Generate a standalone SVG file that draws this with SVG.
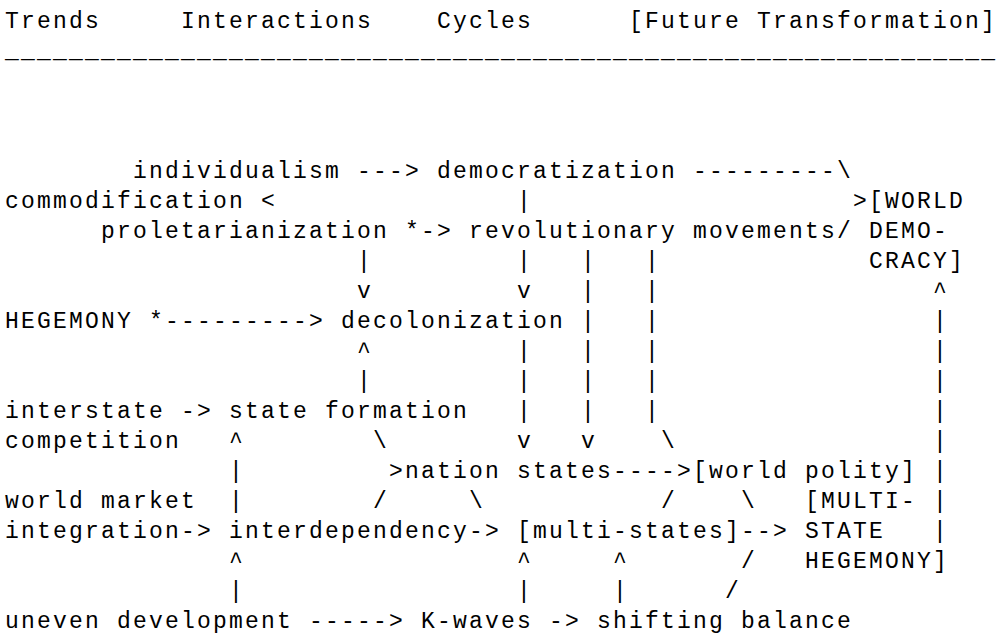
<svg xmlns="http://www.w3.org/2000/svg" width="996" height="636" viewBox="0 0 996 636">
<style>
text{font-family:"Liberation Mono","DejaVu Sans Mono",monospace;font-size:23px;letter-spacing:2.2px;fill:#000;white-space:pre}
</style>
<rect width="996" height="636" fill="#fff"/>
<g id="header">
<text x="5" y="28">Trends</text>
<text x="181" y="28">Interactions</text>
<text x="437" y="28">Cycles</text>
<text x="629" y="28">[Future Transformation]</text>
<text x="5" y="58">______________________________________________________________</text>
</g>
<g id="n-individualism"><text x="133" y="178">individualism</text></g>
<g id="n-democratization"><text x="437" y="178">democratization</text></g>
<g id="n-commodification"><text x="5" y="208">commodification</text></g>
<g id="n-proletarianization"><text x="101" y="238">proletarianization</text></g>
<g id="n-revolutionary"><text x="469" y="238">revolutionary movements</text></g>
<g id="n-world-democracy">
<text x="869" y="208">[WORLD</text>
<text x="869" y="238">DEMO-</text>
<text x="869" y="268">CRACY]</text>
</g>
<g id="n-hegemony"><text x="5" y="328">HEGEMONY</text></g>
<g id="n-decolonization"><text x="341" y="328">decolonization</text></g>
<g id="n-interstate"><text x="5" y="418">interstate</text><text x="5" y="448">competition</text></g>
<g id="n-state-formation"><text x="229" y="418">state formation</text></g>
<g id="n-nation-states"><text x="405" y="478">nation states</text></g>
<g id="n-world-polity"><text x="693" y="478">[world polity]</text></g>
<g id="n-world-market"><text x="5" y="508">world market</text><text x="5" y="538">integration</text></g>
<g id="n-interdependency"><text x="229" y="538">interdependency</text></g>
<g id="n-multi-states"><text x="517" y="538">[multi-states]</text></g>
<g id="n-multistate-hegemony">
<text x="805" y="508">[MULTI-</text>
<text x="805" y="538">STATE</text>
<text x="805" y="568">HEGEMONY]</text>
</g>
<g id="n-uneven"><text x="5" y="628">uneven development</text></g>
<g id="n-kwaves"><text x="421" y="628">K-waves</text></g>
<g id="n-shifting"><text x="597" y="628">shifting balance</text></g>
<g id="connectors">
<text x="357" y="178">---&gt;</text>
<text x="693" y="178">---------\</text>
<text x="261" y="208">&lt;</text>
<text x="517" y="208">|</text>
<text x="853" y="208">&gt;</text>
<text x="405" y="238">*-&gt;</text>
<text x="837" y="238">/</text>
<text x="357" y="268">|</text><text x="517" y="268">|</text><text x="581" y="268">|</text><text x="645" y="268">|</text>
<text x="357" y="298">v</text><text x="517" y="298">v</text><text x="581" y="298">|</text><text x="645" y="298">|</text><text x="933" y="298">^</text>
<text x="149" y="328">*---------&gt;</text><text x="581" y="328">|</text><text x="645" y="328">|</text><text x="933" y="328">|</text>
<text x="357" y="358">^</text><text x="517" y="358">|</text><text x="581" y="358">|</text><text x="645" y="358">|</text><text x="933" y="358">|</text>
<text x="357" y="388">|</text><text x="517" y="388">|</text><text x="581" y="388">|</text><text x="645" y="388">|</text><text x="933" y="388">|</text>
<text x="181" y="418">-&gt;</text><text x="517" y="418">|</text><text x="581" y="418">|</text><text x="645" y="418">|</text><text x="933" y="418">|</text>
<text x="229" y="448">^</text><text x="373" y="448">\</text><text x="517" y="448">v</text><text x="581" y="448">v</text><text x="661" y="448">\</text><text x="933" y="448">|</text>
<text x="229" y="478">|</text><text x="389" y="478">&gt;</text><text x="613" y="478">----&gt;</text><text x="933" y="478">|</text>
<text x="229" y="508">|</text><text x="373" y="508">/</text><text x="469" y="508">\</text><text x="661" y="508">/</text><text x="741" y="508">\</text><text x="933" y="508">|</text>
<text x="181" y="538">-&gt;</text><text x="469" y="538">-&gt;</text><text x="741" y="538">--&gt;</text><text x="933" y="538">|</text>
<text x="229" y="568">^</text><text x="517" y="568">^</text><text x="613" y="568">^</text><text x="741" y="568">/</text>
<text x="229" y="598">|</text><text x="517" y="598">|</text><text x="613" y="598">|</text><text x="725" y="598">/</text>
<text x="309" y="628">-----&gt;</text><text x="549" y="628">-&gt;</text>
</g>
</svg>
